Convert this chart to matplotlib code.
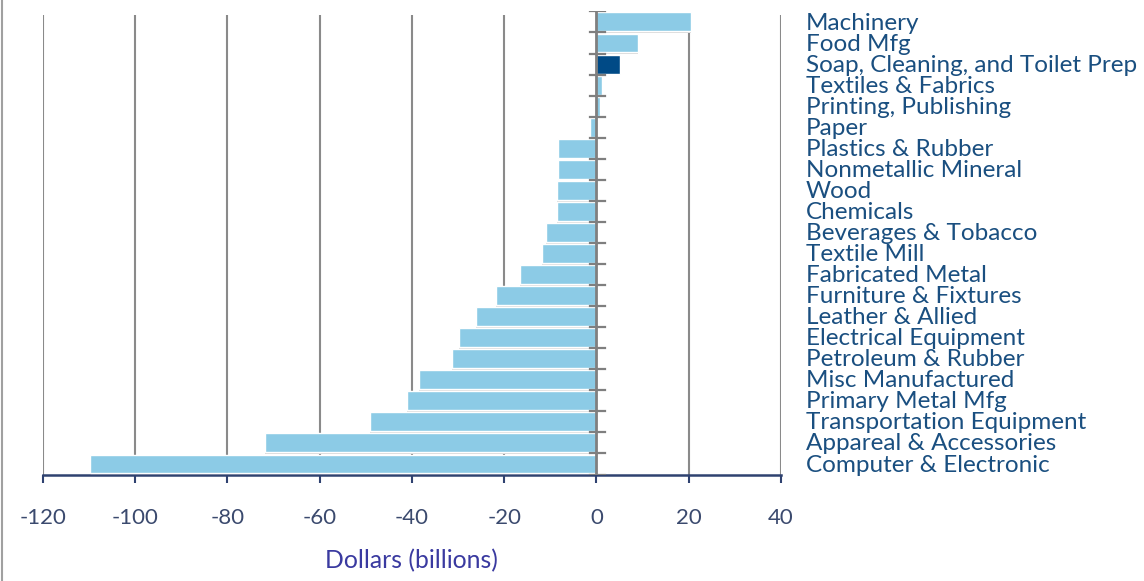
import numpy as np
import matplotlib.pyplot as plt
from matplotlib.lines import Line2D

# 各行业数值 (十亿美元)，自上而下
industries = ['Machinery', 'Food Mfg', 'Soap, Cleaning, and Toilet Prep',
              'Textiles & Fabrics', 'Printing, Publishing', 'Paper',
              'Plastics & Rubber', 'Nonmetallic Mineral', 'Wood', 'Chemicals',
              'Beverages & Tobacco', 'Textile Mill', 'Fabricated Metal',
              'Furniture & Fixtures', 'Leather & Allied', 'Electrical Equipment',
              'Petroleum & Rubber', 'Misc Manufactured', 'Primary Metal Mfg',
              'Transportation Equipment', 'Appareal & Accessories',
              'Computer & Electronic']
values = [20.4, 9.1, 5.2, 1.3, 0.7, -1.3, -8.3, -8.3, -8.5, -8.5,
          -11.0, -11.9, -16.6, -21.7, -26.2, -29.8, -31.4, -38.4, -41.0,
          -49.1, -71.9, -109.8]
highlight = 'Soap, Cleaning, and Toilet Prep'
xticks = [-120, -100, -80, -60, -40, -20, 0, 20, 40]

light = '#8ccbe6'
dark = '#004a86'
label_col = '#1a4f80'
tick_col = '#3b4a6e'

plt.rcParams['font.family'] = ['Lato', 'DejaVu Sans']

fig = plt.figure(figsize=(11.44, 5.81), dpi=100)
ax = fig.add_axes([0.0373, 0.1833, 0.6454, 0.797])

n = len(industries)
y = np.arange(n)[::-1]
colors = [dark if s == highlight else light for s in industries]

# 轻微阴影
ax.barh(y - 0.08, values, height=0.9, color='#d8d8d8', zorder=2)
ax.barh(y, values, height=0.9, color=colors, edgecolor='white',
        linewidth=1.0, zorder=3)

ax.set_xlim(-120, 40)
ax.set_ylim(-0.5, n - 0.5)

# 网格线
for xv in xticks:
    if xv != 0:
        ax.plot([xv, xv], [-0.5, n - 0.5 - 0.15], color='#8a8a8a', lw=1.5,
                zorder=1, solid_capstyle='butt')

# 零轴及刻度
ax.plot([0, 0], [-0.5, n - 0.5], color='#7f7f7f', lw=2, zorder=4)
for b in np.arange(n + 1) - 0.5:
    ax.plot([-1.5, 1.8], [b, b], color='#7f7f7f', lw=1.6, zorder=4)

for s in ['top', 'right', 'left']:
    ax.spines[s].set_visible(False)
ax.spines['bottom'].set_color('#2f4270')
ax.spines['bottom'].set_linewidth(1.8)
ax.set_yticks([])
ax.set_xticks(xticks)
ax.set_xticklabels([str(v) for v in xticks])
ax.tick_params(axis='x', colors='#2f4270', length=6, width=1.5,
               labelsize=16, pad=18, labelcolor=tick_col)

ax.set_xlabel('Dollars (billions)', fontsize=17.8, color='#3a3aa0', labelpad=15)

# 右侧类别标签
for yi, name in zip(y, industries):
    ax.text(1.034, yi - 0.05, name, transform=ax.get_yaxis_transform(),
            ha='left', va='center', fontsize=17.5, color=label_col)

# 左侧边框线
fig.add_artist(Line2D([0.002, 0.002], [0, 1], transform=fig.transFigure,
                      color='#a0a0a0', lw=1.5))

fig.savefig('out.png', dpi=100)
